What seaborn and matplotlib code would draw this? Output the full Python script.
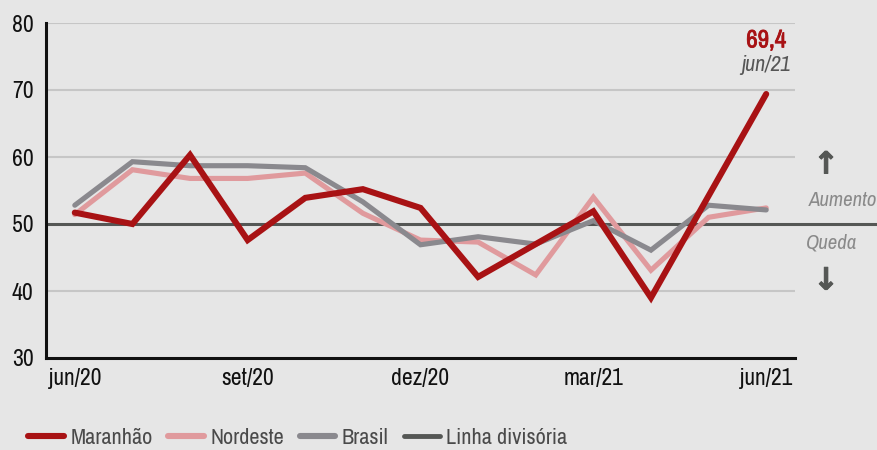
import matplotlib
matplotlib.use("Agg")
import matplotlib.pyplot as plt
from matplotlib import font_manager
import matplotlib.patheffects as pe
from matplotlib.lines import Line2D
import numpy as np
import pandas as pd
import seaborn as sns

# dados (indice, jun/20 a jun/21)
meses = ["jun/20", "jul/20", "ago/20", "set/20", "out/20", "nov/20", "dez/20",
         "jan/21", "fev/21", "mar/21", "abr/21", "mai/21", "jun/21"]
maranhao = [51.7, 50.0, 60.3, 47.6, 53.9, 55.2, 52.4, 42.1, 47.0, 51.9, 39.0, 54.2, 69.4]
nordeste = [51.4, 58.1, 56.8, 56.8, 57.6, 51.6, 47.6, 47.3, 42.4, 54.0, 43.1, 51.0, 52.4]
brasil = [52.8, 59.3, 58.7, 58.7, 58.4, 53.3, 46.9, 48.1, 47.0, 50.5, 46.1, 52.8, 52.1]
rotulos_x = ["jun/20", "set/20", "dez/20", "mar/21", "jun/21"]
yticks = [30, 40, 50, 60, 70, 80]

cores = {"Maranhão": "#a81214", "Nordeste": "#e09a9d", "Brasil": "#8a898e"}
cor_divisoria = "#555755"
fundo = "#e6e6e6"

df = pd.DataFrame({"mes": meses, "i": range(len(meses)),
                   "Maranhão": maranhao, "Nordeste": nordeste, "Brasil": brasil})
df_long = df.melt(id_vars=["mes", "i"], var_name="serie", value_name="valor")

sns.set_style("white")

# fonte estreita se houver alguma instalada
estreita = None
esticar = "normal"
instaladas = font_manager.fontManager.ttflist
for f in instaladas:
    if any(k in f.name for k in ["Narrow", "Condensed"]):
        estreita = f.name
        break
if estreita is None:
    for f in instaladas:
        if str(f.stretch) in ("condensed", "semi-condensed", "extra-condensed") and f.name in ("DejaVu Sans", "Noto Sans", "Open Sans", "Roboto"):
            estreita = f.name
            esticar = f.stretch
            break
if estreita is None:
    estreita = "Roboto"

plt.rcParams["font.family"] = [estreita, "DejaVu Sans"]
plt.rcParams["font.stretch"] = esticar

fig = plt.figure(figsize=(8.77, 4.5), dpi=100, facecolor=fundo)
ax = fig.add_axes([46 / 877, 1 - 358 / 450, (795 - 46) / 877, (358 - 23) / 450])
ax.set_facecolor(fundo)

# grade
for y in [40, 60, 70, 80]:
    ax.axhline(y, color="#c6c6c6", lw=1.5, zorder=1)
ax.axhline(50, xmin=0, xmax=(877 - 46) / (795 - 46), color=cor_divisoria,
           lw=2.2, zorder=2, clip_on=False)

larg = {"Maranhão": 4.4, "Nordeste": 3.7, "Brasil": 3.7}
ordem_z = {"Nordeste": 3, "Brasil": 4, "Maranhão": 5}
for serie in ["Nordeste", "Brasil", "Maranhão"]:
    sns.lineplot(data=df_long[df_long.serie == serie], x="i", y="valor",
                 color=cores[serie], lw=larg[serie], ax=ax, zorder=ordem_z[serie],
                 solid_capstyle="round", solid_joinstyle="miter", legend=False)

ax.set_xlim(-0.5, len(meses) - 0.5)
ax.set_ylim(30, 80)
ax.set_yticks(yticks)
ax.set_yticklabels([str(v) for v in yticks], fontsize=17, color="#111111")
ax.tick_params(axis="y", length=0, pad=9)

pos_rot = [meses.index(m) for m in rotulos_x]
ax.set_xticks(pos_rot)
ax.set_xticklabels(rotulos_x, fontsize=17, color="#111111")
ax.set_xticks(np.arange(0.5, len(meses) - 0.4, 1), minor=True)
ax.tick_params(axis="x", which="major", length=0, pad=7)
ax.tick_params(axis="x", which="minor", length=8, width=2, direction="in", color="#111111")
ax.set_xlabel("")
ax.set_ylabel("")

for s in ["top", "right"]:
    ax.spines[s].set_visible(False)
for s in ["left", "bottom"]:
    ax.spines[s].set_color("#111111")
    ax.spines[s].set_linewidth(2.2)
    ax.spines[s].set_zorder(6)

# anotacoes
ultimo = len(meses) - 1
ax.annotate(f"{maranhao[-1]:.1f}".replace(".", ","), (ultimo, maranhao[-1]),
            xytext=(0, 39), textcoords="offset points", ha="center", va="center",
            fontsize=18, fontweight="bold", color=cores["Maranhão"],
            path_effects=[pe.withStroke(linewidth=0.6, foreground=cores["Maranhão"])])
ax.annotate(meses[-1], (ultimo, maranhao[-1]), xytext=(0, 21),
            textcoords="offset points", ha="center", va="center",
            fontsize=16, style="italic", color="#555555")

fig.text(877 / 877, 1 - 200 / 450, "Aumento", ha="right", va="center",
         fontsize=15, style="italic", color="#8a8a8a")
fig.text(806 / 877, 1 - 243 / 450, "Queda", ha="left", va="center",
         fontsize=15, style="italic", color="#8a8a8a")
seta_fx = [pe.withStroke(linewidth=0.7, foreground=cor_divisoria)]
fig.text(826 / 877, 1 - 165 / 450, "↑", ha="center", va="center",
         fontsize=22, fontweight="bold", color=cor_divisoria, family="DejaVu Sans",
         path_effects=seta_fx)
fig.text(826 / 877, 1 - 281 / 450, "↓", ha="center", va="center",
         fontsize=22, fontweight="bold", color=cor_divisoria, family="DejaVu Sans",
         path_effects=seta_fx)

# legenda
handles = [Line2D([], [], color=cores["Maranhão"], lw=4.4, solid_capstyle="round"),
           Line2D([], [], color=cores["Nordeste"], lw=4.4, solid_capstyle="round"),
           Line2D([], [], color=cores["Brasil"], lw=4.4, solid_capstyle="round"),
           Line2D([], [], color=cor_divisoria, lw=3.5, solid_capstyle="round")]
labels = ["Maranhão", "Nordeste", "Brasil", "Linha divisória"]
leg = fig.legend(handles, labels, loc="center left", bbox_to_anchor=(28 / 877, 1 - 438 / 450),
                 ncol=4, frameon=False, fontsize=16, handlelength=1.6,
                 handletextpad=0.3, columnspacing=0.7, labelcolor="#4a4a4a",
                 borderaxespad=0, borderpad=0)

fig.savefig("out.png", dpi=100, facecolor=fundo)
